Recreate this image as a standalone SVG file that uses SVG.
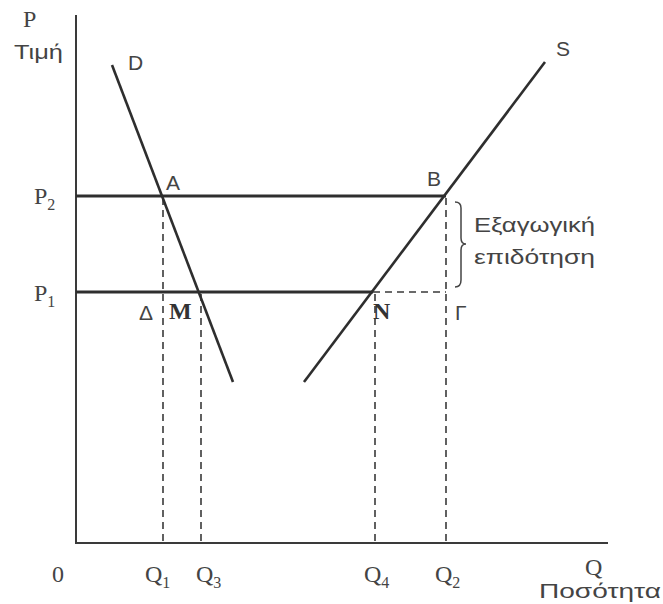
<svg xmlns="http://www.w3.org/2000/svg" width="663" height="604" viewBox="0 0 663 604">
<style>
.ax{stroke:#3a3a3a;stroke-width:2;fill:none}
.th{stroke:#2e2e2e;stroke-width:3;fill:none}
.cv{stroke:#2e2e2e;stroke-width:2.6;fill:none}
.ds{stroke:#3a3a3a;stroke-width:1.6;stroke-dasharray:7,5;fill:none}
.sf{font-family:"Liberation Serif","DejaVu Serif",serif;fill:#444;font-size:24px}
.sub{font-size:16px}
.ss{font-family:"Liberation Sans","DejaVu Sans",sans-serif;fill:#444;font-size:21px}
.bd{font-family:"Liberation Serif","DejaVu Serif",serif;fill:#333;font-size:24px;font-weight:bold}
</style>
<rect width="663" height="604" fill="#fff"/>
<g id="connectors">
<line class="ax" x1="76" y1="15" x2="76" y2="544"/>
<line class="ax" x1="75" y1="543" x2="608" y2="543"/>
<line class="th" x1="76" y1="196" x2="446" y2="196"/>
<line class="th" x1="76" y1="292" x2="373" y2="292"/>
<line class="ds" x1="373" y1="292" x2="446" y2="292"/>
<line class="ds" x1="163" y1="198" x2="163" y2="543"/>
<line class="ds" x1="201" y1="294" x2="201" y2="543"/>
<line class="ds" x1="375" y1="294" x2="375" y2="543"/>
<line class="ds" x1="446" y1="198" x2="446" y2="543"/>
</g>
<g id="D"><line class="cv" x1="112" y1="65" x2="233" y2="382"/><text class="ss" x="128" y="70">D</text></g>
<g id="S"><line class="cv" x1="304" y1="382" x2="545" y2="62"/><text class="ss" x="556" y="56">S</text></g>
<g id="axisP"><text class="sf" x="23" y="27">P</text><text class="ss" x="14" y="59" textLength="49" lengthAdjust="spacingAndGlyphs">Τιμή</text></g>
<g id="axisQ"><text class="sf" x="585" y="575">Q</text><text class="ss" x="539" y="598" textLength="122" lengthAdjust="spacingAndGlyphs">Ποσότητα</text></g>
<g id="origin"><text class="sf" x="52" y="582">0</text></g>
<g id="A"><text class="ss" x="166" y="190">A</text></g>
<g id="B"><text class="ss" x="427" y="186">B</text></g>
<g id="P2"><text class="sf" x="34" y="204">P<tspan class="sub" dy="6">2</tspan></text></g>
<g id="P1"><text class="sf" x="34" y="301">P<tspan class="sub" dy="6">1</tspan></text></g>
<g id="Delta"><text class="ss" x="139" y="320">Δ</text></g>
<g id="M"><text class="bd" x="169" y="319">M</text></g>
<g id="N"><text class="bd" x="373" y="319">N</text></g>
<g id="Gamma"><text class="ss" x="455" y="320">Γ</text></g>
<g id="subsidy">
<path d="M455,202 Q461,202 461,208 L461,238 Q461,244 466,244 Q461,244 461,250 L461,280 Q461,287 455,287" fill="none" stroke="#444" stroke-width="1.5"/>
<text class="ss" x="474" y="232" textLength="121" lengthAdjust="spacingAndGlyphs">Εξαγωγική</text>
<text class="ss" x="474" y="264" textLength="121" lengthAdjust="spacingAndGlyphs">επιδότηση</text>
</g>
<g id="Q1"><text class="sf" x="145" y="582">Q<tspan class="sub" dy="6">1</tspan></text></g>
<g id="Q3"><text class="sf" x="196" y="582">Q<tspan class="sub" dy="6">3</tspan></text></g>
<g id="Q4"><text class="sf" x="364" y="582">Q<tspan class="sub" dy="6">4</tspan></text></g>
<g id="Q2"><text class="sf" x="435" y="582">Q<tspan class="sub" dy="6">2</tspan></text></g>
</svg>
